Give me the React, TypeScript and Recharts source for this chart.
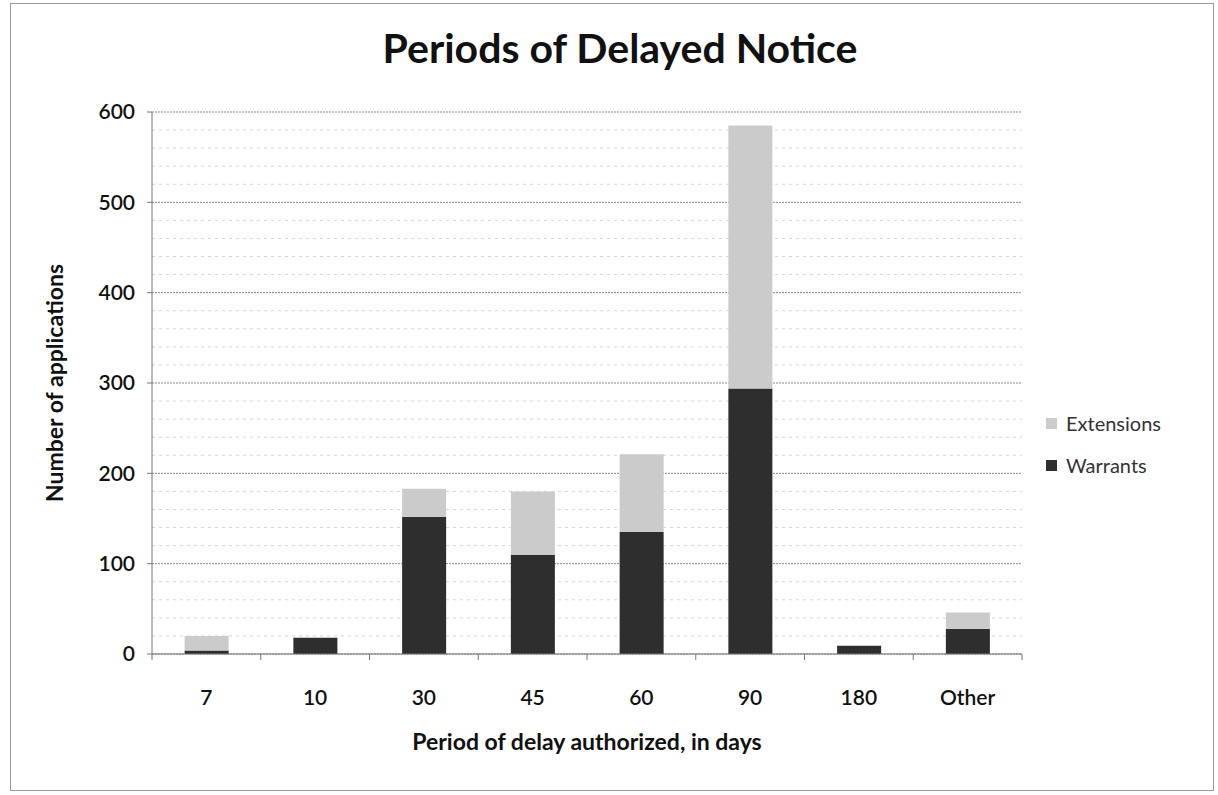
import { Bar, BarChart, CartesianGrid, XAxis, YAxis } from "recharts";

const periods = ["7", "10", "30", "45", "60", "90", "180", "Other"];
const warrants = [4, 18, 152, 110, 135, 294, 9, 28];
const extensions = [16, 0, 31, 70, 86, 291, 0, 18];
const yTicks = [0, 100, 200, 300, 400, 500, 600];
const minorTicks = [
  20, 40, 60, 80, 120, 140, 160, 180, 220, 240, 260, 280, 320, 340, 360, 380, 420, 440, 460, 480, 520, 540, 560, 580,
];
const seriesNames = ["Warrants", "Extensions"];
const seriesColors = ["#2e2e2e", "#cbcbcb"];

const data = periods.map((period, i) => ({ period, Warrants: warrants[i], Extensions: extensions[i] }));

const FONT = "Lato, 'Open Sans', sans-serif";

function PeriodTick(props: any) {
  const { x, y, payload, index, width, visibleTicksCount } = props;
  const band = (width || 870) / (visibleTicksCount || periods.length);
  return (
    <g>
      <line x1={x + band / 2} y1={y - 8} x2={x + band / 2} y2={y - 2} stroke="#777" />
      {index === 0 && <line x1={x - band / 2} y1={y - 8} x2={x - band / 2} y2={y - 2} stroke="#777" />}
      <text x={x} y={y + 43} textAnchor="middle" fill="#111" fontSize={21} fontWeight={600} fontFamily={FONT}>
        {payload.value}
      </text>
    </g>
  );
}

// faint minor gridlines every 20, placed with the y axis scale
function minorLines(args: any) {
  const yAxis = args?.yAxis || {};
  const s = yAxis.scale;
  if (typeof s === "function") return minorTicks.map((v) => s(v));
  if (s && typeof s.map === "function") return minorTicks.map((v) => s.map(v));
  const off = args?.offset || { top: 112, height: 542 };
  const [lo, hi] = Array.isArray(yAxis.domain) && typeof yAxis.domain[1] === "number" ? yAxis.domain : [0, 600];
  return minorTicks.map((v) => off.top + off.height * (1 - (v - lo) / (hi - lo)));
}

export default function App() {
  return (
    <div style={{ position: "absolute", left: 0, top: 0, width: 1218, height: 795, background: "#fff" }}>
      <div
        style={{
          position: "absolute",
          left: 10,
          top: 3,
          width: 1202,
          height: 786,
          border: "1px solid #9a9a9a",
        }}
      />
      <div
        style={{
          position: "absolute",
          left: 0,
          top: 23,
          width: 1240,
          textAlign: "center",
          fontFamily: FONT,
          fontWeight: 700,
          fontSize: 41,
          color: "#111",
        }}
      >
        Periods of Delayed Notice
      </div>
      <div style={{ position: "absolute", left: 0, top: 0 }}>
        <BarChart width={1218} height={795} data={data} margin={{ top: 112, right: 196, left: 92, bottom: 111 }} barCategoryGap="30%">
          <CartesianGrid
            vertical={false}
            horizontalCoordinatesGenerator={minorLines}
            stroke="#d6d6d6"
            strokeDasharray="3 4"
          />
          <CartesianGrid vertical={false} stroke="#8a8a8a" strokeDasharray="2 1" />
          <XAxis
            dataKey="period"
            axisLine={{ stroke: "#777" }}
            tickLine={false}
            tick={<PeriodTick />}
            height={30}
            label={{
              value: "Period of delay authorized, in days",
              position: "bottom",
              offset: 50,
              fill: "#111",
              fontSize: 23,
              fontWeight: 700,
              fontFamily: FONT,
            }}
          />
          <YAxis
            domain={[0, 600]}
            ticks={yTicks}
            width={60}
            axisLine={{ stroke: "#777" }}
            tickLine={{ stroke: "#777" }}
            tickSize={5}
            tickMargin={12}
            tick={{ fill: "#111", fontSize: 21, fontWeight: 600, fontFamily: FONT }}
            label={{
              value: "Number of applications",
              angle: -90,
              position: "left",
              offset: 37,
              fill: "#111",
              fontSize: 23,
              fontWeight: 700,
              fontFamily: FONT,
              style: { textAnchor: "middle" },
            }}
          />
          {seriesNames.map((name, i) => (
            <Bar key={name} dataKey={name} stackId="a" fill={seriesColors[i]} isAnimationActive={false} />
          ))}
        </BarChart>
      </div>
      <div style={{ position: "absolute", left: 1046, top: 410, fontFamily: FONT, fontSize: 20, color: "#333" }}>
        {[...seriesNames].reverse().map((name) => (
          <div key={name} style={{ display: "flex", alignItems: "center", height: 26, marginBottom: 16 }}>
            <span
              style={{
                width: 11,
                height: 11,
                background: seriesColors[seriesNames.indexOf(name)],
                display: "inline-block",
                marginRight: 9,
              }}
            />
            {name}
          </div>
        ))}
      </div>
    </div>
  );
}
